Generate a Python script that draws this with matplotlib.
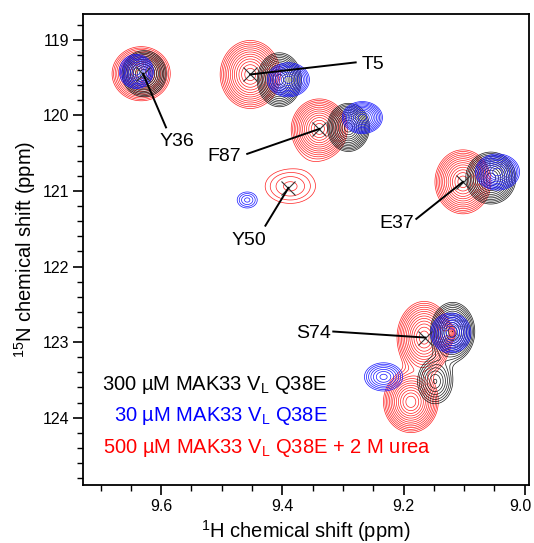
import numpy as np
import matplotlib
matplotlib.use("Agg")
import matplotlib.pyplot as plt
from matplotlib.ticker import MultipleLocator, FormatStrFormatter
from matplotlib.transforms import ScaledTranslation

plt.rcParams['font.family'] = ['Liberation Sans', 'DejaVu Sans']

# ---- data: peaks (1H ppm, 15N ppm, width_H, width_N, amplitude) ----
black_x   = [9.628, 9.405, 9.291, 9.056, 9.119, 9.148]
black_y   = [119.45, 119.53, 120.16, 120.83, 122.86, 123.52]
black_sx  = [0.0189, 0.0189, 0.0180, 0.0214, 0.0189, 0.0210]
black_sy  = [0.158, 0.185, 0.165, 0.178, 0.200, 0.215]
black_amp = [14.6, 14.6, 14.6, 14.6, 14.6, 5.0]

blue_x   = [9.641, 9.390, 9.268, 9.458, 9.045, 9.122, 9.233]
blue_y   = [119.42, 119.53, 120.03, 121.12, 120.75, 122.88, 123.46]
blue_sx  = [0.0165, 0.0203, 0.0194, 0.0195, 0.0213, 0.0194, 0.0245]
blue_sy  = [0.132, 0.132, 0.124, 0.125, 0.140, 0.155, 0.145]
blue_amp = [9.3, 9.3, 9.3, 2.18, 9.3, 9.3, 4.3]

red_x   = [9.633, 9.453, 9.339, 9.387, 9.102, 9.166, 9.188, 9.126]
red_y   = [119.45, 119.46, 120.18, 120.94, 120.88, 122.94, 123.79, 122.88]
red_sx  = [0.0236, 0.0244, 0.0227, 0.0488, 0.0227, 0.0220, 0.0222, 0.008]
red_sy  = [0.176, 0.221, 0.195, 0.266, 0.208, 0.235, 0.200, 0.07]
red_amp = [18.2, 18.2, 18.2, 2.18, 18.2, 18.2, 18.2, 3.0]

# assignments: cross position, label position, label end of leader line
labels  = ['Y36', 'T5', 'F87', 'Y50', 'E37', 'S74']
cross_x = [9.630, 9.453, 9.339, 9.390, 9.102, 9.164]
cross_y = [119.45, 119.46, 120.18, 120.96, 120.88, 122.94]
lead_x  = [9.592, 9.279, 9.458, 9.428, 9.179, 9.316]
lead_y  = [120.16, 119.30, 120.51, 121.46, 121.37, 122.86]
text_x  = [9.574, 9.251, 9.496, 9.456, 9.212, 9.349]
text_y  = [120.34, 119.33, 120.55, 121.66, 121.43, 122.89]

legend_lines = ['300 µM MAK33 V$_\\mathregular{L}$ Q38E',
                '30 µM MAK33 V$_\\mathregular{L}$ Q38E',
                '500 µM MAK33 V$_\\mathregular{L}$ Q38E + 2 M urea']
legend_colors = ['black', '#0000ff', '#ff0000']

# ---- figure ----
fig = plt.figure(figsize=(5.34, 5.43), dpi=100)
ax = fig.add_axes([83/534, 58/543, 446/534, 471/543])

xg = np.linspace(8.98, 9.74, 700)
yg = np.linspace(118.6, 124.95, 800)
X, Y = np.meshgrid(xg, yg)

def spectrum(px, py, sx, sy, amp):
    Z = np.zeros_like(X)
    for a, b, c, d, e in zip(px, py, sx, sy, amp):
        r = np.sqrt(((X - a) / c) ** 2 + ((Y - b) / d) ** 2)
        Z += e * np.exp(-r ** 1.5)
    return Z

levels = 1.0 * 1.25 ** np.arange(0, 20)

ax.contour(X, Y, spectrum(red_x, red_y, red_sx, red_sy, red_amp),
           levels=levels, colors='#ff2020', linewidths=0.5)
ax.contour(X, Y, spectrum(black_x, black_y, black_sx, black_sy, black_amp),
           levels=levels, colors='#1a1a1a', linewidths=0.5)
ax.contour(X, Y, spectrum(blue_x, blue_y, blue_sx, blue_sy, blue_amp),
           levels=levels, colors='#1515ff', linewidths=0.5)

for i, lab in enumerate(labels):
    ax.plot(cross_x[i], cross_y[i], marker='x', ms=10, mew=0.8,
            color='#333333', zorder=5)
    ax.plot([cross_x[i], lead_x[i]], [cross_y[i], lead_y[i]],
            color='black', lw=1.4, zorder=6)
    ax.text(text_x[i], text_y[i], lab, fontsize=14, ha='center',
            va='center', zorder=7)

ax.text(9.326, 123.57, legend_lines[0], color=legend_colors[0], fontsize=14.5,
        ha='right', va='center')
ax.text(9.326, 123.98, legend_lines[1], color=legend_colors[1], fontsize=14.5,
        ha='right', va='center')
ax.text(9.696, 124.40, legend_lines[2], color=legend_colors[2], fontsize=14.5,
        ha='left', va='center')

ax.set_xlim(9.729, 8.993)
ax.set_ylim(124.89, 118.66)
ax.xaxis.set_major_locator(MultipleLocator(0.2))
ax.xaxis.set_minor_locator(MultipleLocator(0.05))
ax.yaxis.set_major_locator(MultipleLocator(1))
ax.yaxis.set_minor_locator(MultipleLocator(0.2))
ax.xaxis.set_major_formatter(FormatStrFormatter('%.1f'))
ax.yaxis.set_major_formatter(FormatStrFormatter('%d'))
ax.tick_params(which='major', direction='out', length=7, width=1.2,
               labelsize=11.5, pad=3)
ax.tick_params(which='minor', direction='out', length=4, width=1.0)
for s in ax.spines.values():
    s.set_linewidth(1.3)

ax.set_xlabel('$^\\mathregular{1}$H chemical shift (ppm)', fontsize=14.5, labelpad=3)
ax.set_ylabel('$^\\mathregular{15}$N chemical shift (ppm)', fontsize=14.5, labelpad=3)

fig.canvas.draw()
for tick in ax.xaxis.get_major_ticks():
    if tick.label1.get_text() == '9.0':
        tick.label1.set_transform(tick.label1.get_transform() +
                                  ScaledTranslation(-3 / 72, 0, fig.dpi_scale_trans))

fig.savefig('out.png', dpi=100)
